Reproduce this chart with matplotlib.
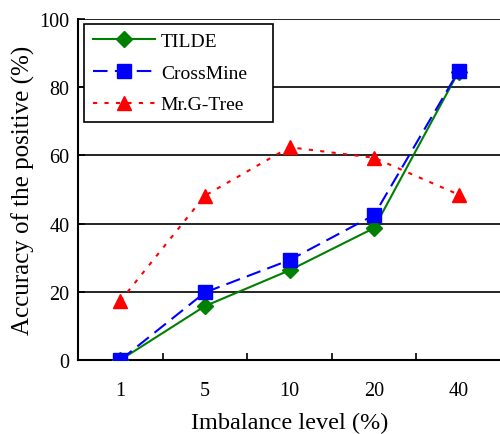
import matplotlib
matplotlib.use('Agg')
import matplotlib.pyplot as plt
import numpy as np

levels = ['1', '5', '10', '20', '40']
tilde = [0, 15.8, 26.3, 38.7, 84.6]
crossmine = [0, 19.8, 29.3, 42.5, 84.8]
mrgtree = [17.3, 48.2, 62.4, 59.3, 48.5]

plt.rcParams['font.family'] = ['Liberation Serif', 'DejaVu Serif']

fig = plt.figure(figsize=(5, 4.35), dpi=100)
ax = fig.add_axes([78 / 500, 74 / 435, 423 / 500, 341 / 435])

x = np.arange(len(levels))
for yv in [20, 40, 60, 80, 100]:
    ax.axhline(yv, color='black', lw=1.2, zorder=1)

ax.plot(x, tilde, color='green', ls='-', lw=1.5, marker='D', ms=8, label='TILDE', zorder=3)
ax.plot(x, crossmine, color='blue', ls=(0, (7, 3.5)), lw=1.5, marker='s', ms=10, label='CrossMine', zorder=4)
ax.plot(x, mrgtree, color='red', ls=(0, (2, 3.5)), lw=1.5, marker='^', ms=10, label='Mr.G-Tree', zorder=2)

ax.set_xlim(-0.5, len(levels) - 0.5)
ax.set_ylim(0, 100)
ax.set_yticks([0, 20, 40, 60, 80, 100])
ax.set_xticks(x)
ax.set_xticklabels(levels)
ax.set_xticks(np.arange(len(levels) - 1) + 0.5, minor=True)
ax.tick_params(axis='x', which='major', length=0, pad=15, labelsize=14.5)
ax.tick_params(axis='x', which='minor', direction='in', length=5, width=1.2)
ax.tick_params(axis='y', direction='in', length=5, width=1.2, pad=6, labelsize=14.5)

for s in ['top', 'right']:
    ax.spines[s].set_visible(False)
for s in ['left', 'bottom']:
    ax.spines[s].set_linewidth(1.5)

ax.set_xlabel('Imbalance level (%)', fontsize=17.5, labelpad=8.5)
ax.set_ylabel('Accuracy of the positive (%)', fontsize=18, labelpad=3)

leg = ax.legend(loc='upper left', bbox_to_anchor=(0.0142, 0.5, 0.447, 0.486), mode='expand',
                fontsize=14, frameon=True, fancybox=False, edgecolor='black', framealpha=1,
                handlelength=3.2, borderpad=0.45, labelspacing=0.72, handletextpad=0.3,
                borderaxespad=0)
leg.get_frame().set_linewidth(1.2)

fig.savefig('out.png', dpi=100)
